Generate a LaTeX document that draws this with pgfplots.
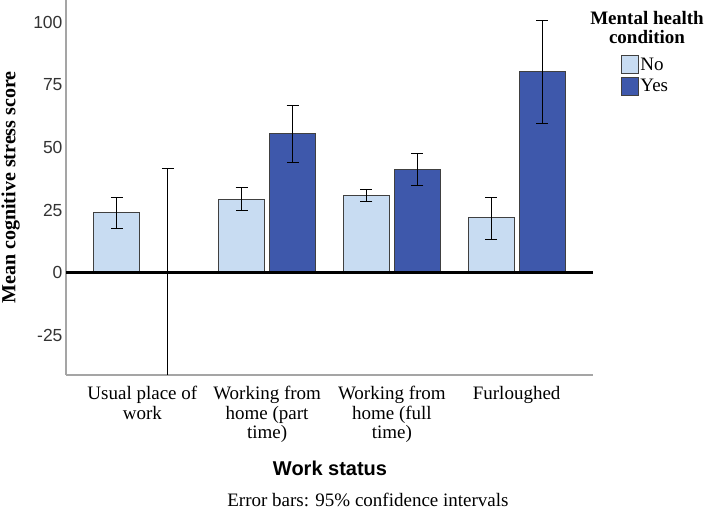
\documentclass[border=0pt]{standalone}
\usepackage{fontspec}
\setmainfont{Liberation Serif}
\newfontfamily\arial{Liberation Sans}
\usepackage{pgfplots}
\pgfplotsset{compat=1.18}
\usepackage{pgfplotstable}

\definecolor{lightbar}{RGB}{200,220,242}
\definecolor{darkbar}{RGB}{62,88,171}
\definecolor{axgray}{RGB}{165,165,165}

% mean, upper and lower half-widths of the 95% CI
\pgfplotstableread{
x y ep em
0 24.0 6.2 6.4
1 29.4 4.8 4.6
2 30.8 2.3 2.2
3 21.9 8.3 8.5
}\nodata
\pgfplotstableread{
x y ep em
0 0.0 41.7 41.0
1 55.5 11.5 11.5
2 41.4 6.4 6.6
3 80.5 20.5 20.9
}\yesdata

\begin{document}
\begin{tikzpicture}
\useasboundingbox (0,0) rectangle (708pt,510pt);
\begin{axis}[
  at={(66pt,135pt)}, anchor=south west,
  scale only axis, width=527pt, height=375pt,
  xmin=-0.612, xmax=3.612, ymin=-40.9, ymax=109,
  clip mode=individual,
  axis lines*=left,
  axis line style={axgray, line width=1.5pt},
  major tick length=0pt,
  ybar=5pt, bar width=46pt,
  xtick={0,1,2,3},
  xticklabels={{Usual place of\\work},{Working from\\home (part\\time)},{Working from\\home (full\\time)},{Furloughed}},
  xticklabel style={align=center, font=\fontsize{19}{19.3}\selectfont, anchor=north, yshift=-8pt},
  ytick={-25,0,25,50,75,100},
  yticklabels={-25,0,25,50,75,100},
  yticklabel style={font=\arial\fontsize{17.5}{19}\selectfont, text=black!80},
  xlabel={Work status},
  xlabel style={at={(axis description cs:0.501,-0.248)}, anchor=center, font=\arial\bfseries\fontsize{20}{22}\selectfont},
  ylabel={Mean cognitive stress score},
  ylabel style={at={(axis description cs:-0.105,0.5)}, anchor=center, rotate=0, font=\bfseries\fontsize{20}{22}\selectfont},
  legend style={at={(axis description cs:1.053,0.853)}, anchor=north west, draw=none, fill=none,
    font=\fontsize{19}{19.3}\selectfont, inner sep=0pt, row sep=2.5pt, nodes={inner sep=1.5pt}},
  legend cell align=left,
  error bars/error bar style={black, line width=0.9pt},
  error bars/error mark options={black, line width=0.9pt, mark size=6pt, rotate=90},
]
\addplot[fill=lightbar, draw=black!75, line width=0.8pt,
  legend image code/.code={\draw[fill=lightbar, draw=black!75, line width=0.8pt] (0pt,-9pt) rectangle (17pt,9pt);},
  error bars/.cd, y dir=both, y explicit]
  table[x=x, y=y, y error plus=ep, y error minus=em] {\nodata};
\addlegendentry{No}
\addplot[fill=darkbar, draw=black!75, line width=0.8pt,
  legend image code/.code={\draw[fill=darkbar, draw=black!75, line width=0.8pt] (0pt,-9pt) rectangle (17pt,9pt);},
  error bars/.cd, y dir=both, y explicit]
  table[x=x, y=y, y error plus=ep, y error minus=em] {\yesdata};
\addlegendentry{Yes}
\draw[black, line width=2.5pt] ({rel axis cs:0,0}|-{axis cs:0,0}) -- ({rel axis cs:1,0}|-{axis cs:0,0});
\node[align=center, font=\bfseries\fontsize{19}{19.3}\selectfont] at (axis description cs:1.1025,0.927) {Mental health\\condition};
\node[inner sep=0pt, font=\fontsize{19}{19.3}\selectfont] at (axis description cs:0.573,-0.334) {Error bars: 95\% confidence intervals};
\end{axis}
\end{tikzpicture}
\end{document}
